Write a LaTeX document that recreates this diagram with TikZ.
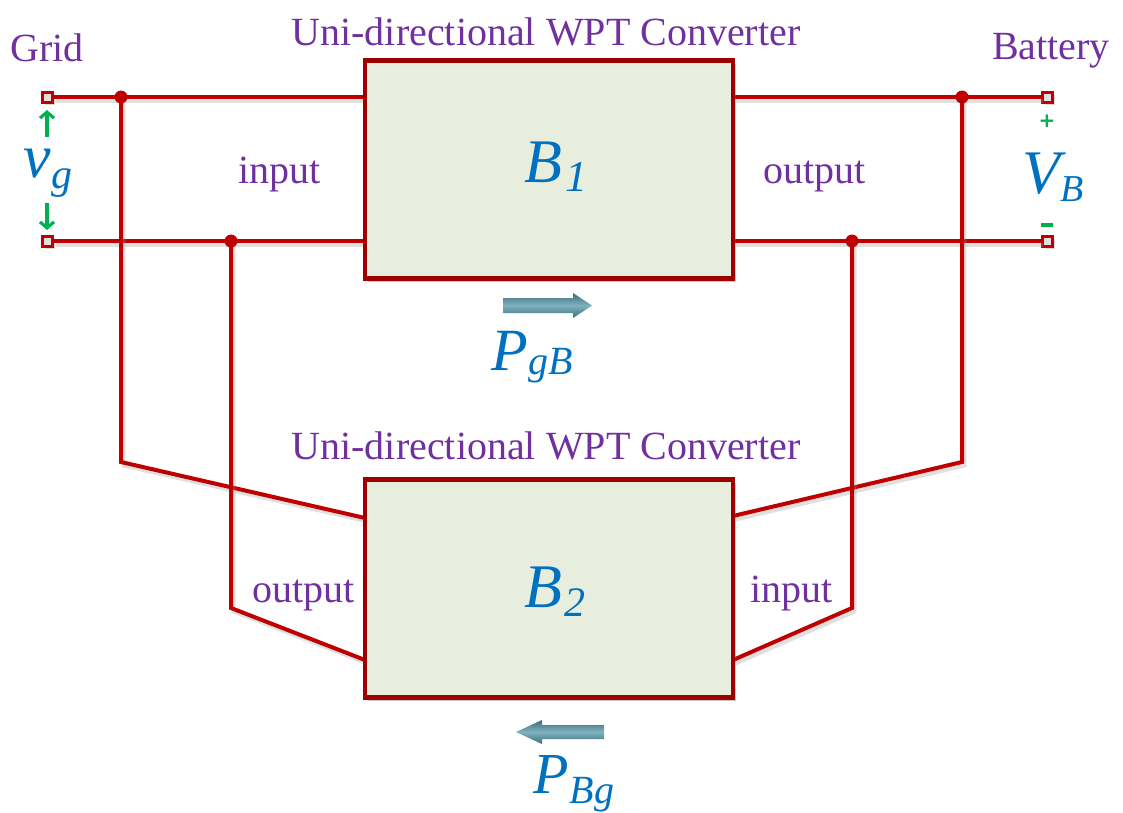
\documentclass[tikz,border=0pt]{standalone}
\usepackage{fontspec}
\setmainfont{Liberation Serif}
\newfontfamily\djv{DejaVu Sans}
\usetikzlibrary{arrows.meta,calc,shadows}
\definecolor{wirered}{HTML}{C00000}
\definecolor{boxred}{HTML}{9E0000}
\definecolor{boxfill}{HTML}{E8EEDE}
\definecolor{lblpurple}{HTML}{7030A0}
\definecolor{lblblue}{HTML}{0070C0}
\definecolor{sgngreen}{HTML}{00B050}
\definecolor{arrdark}{HTML}{3D6C79}
\definecolor{arrmid}{HTML}{7FB2BF}
\newcommand{\fs}[1]{\fontsize{#1}{#1}\selectfont}
\begin{document}
\begin{tikzpicture}[x=1pt,y=-1pt,
  wire/.style={wirered,line width=4pt,line join=miter,
    preaction={draw=black!40,opacity=0.3,line width=4pt,transform canvas={shift={(2.5pt,-3.5pt)}}}},
  conv/.style={draw=boxred,line width=4.5pt,fill=boxfill,minimum width=368pt,
    minimum height=218pt,inner sep=0pt,
    drop shadow={shadow xshift=3pt,shadow yshift=-3pt,opacity=0.35,fill=black!60}},
  term/.style={draw=wirered,line width=3pt,fill=black!12,minimum size=10pt,inner sep=0pt,
    drop shadow={shadow xshift=2.5pt,shadow yshift=-2.5pt,opacity=0.3}},
  jdot/.style={circle,fill=wirered,minimum size=13pt,inner sep=0pt},
  lbl/.style={text=lblpurple,font=\fs{40},inner sep=0pt},
  sym/.style={text=lblblue,font=\itshape,inner sep=0pt,anchor=base west},
  sig/.style={sgngreen,line width=3.2pt,-{Straight Barb[length=6pt,width=14pt,line width=3.2pt]}},
  sgn/.style={text=sgngreen,font=\fs{20}\djv\bfseries,inner sep=0pt},
]
\useasboundingbox (0,0) rectangle (1123,812);

% terminals
\node[term] (g1) at (47,97) {};
\node[term] (g2) at (47,241) {};
\node[term] (t1) at (1047,97) {};
\node[term] (t2) at (1047,241) {};

% junctions and bends
\coordinate (jL1) at (121,97);
\coordinate (jL2) at (231,241);
\coordinate (jR1) at (962,97);
\coordinate (jR2) at (852,241);
\coordinate (bL1) at (121,462);
\coordinate (bL2) at (231,608);
\coordinate (bR1) at (962,462);
\coordinate (bR2) at (852,608);
\coordinate (aL1) at (365,518);
\coordinate (aL2) at (365,660);
\coordinate (aR1) at (733,516);
\coordinate (aR2) at (733,660);

\path (549,169.5) coordinate (c1) (549,588.5) coordinate (c2);

% wires
\draw[wire] (g1.east) -- (jL1) -- (365,97);
\draw[wire] (g2.east) -- (jL2) -- (365,241);
\draw[wire] (733,97) -- (jR1) -- (t1.west);
\draw[wire] (733,241) -- (jR2) -- (t2.west);
\draw[wire] (jL1) -- (bL1) -- (aL1);
\draw[wire] (jL2) -- (bL2) -- (aL2);
\draw[wire] (jR1) -- (bR1) -- (aR1);
\draw[wire] (jR2) -- (bR2) -- (aR2);

\node[jdot] (dL1) at (jL1) {};
\node[jdot] (dL2) at (jL2) {};
\node[jdot] (dR1) at (jR1) {};
\node[jdot] (dR2) at (jR2) {};

% boxes
\node[conv] (B1) at (c1) {};
\node[conv] (B2) at (c2) {};

% titles
\node[lbl,anchor=base] (tt1) at (546,45) {Uni-directional WPT Converter};
\node[lbl,anchor=base] (tt2) at (546,459) {Uni-directional WPT Converter};
\node[lbl,anchor=base west] (grid) at (10,61) {Grid};
\node[lbl,anchor=base west] (batt) at (992,59) {Battery};
\node[lbl,anchor=base west] (in1) at (238,183) {input};
\node[lbl,anchor=base west] (out1) at (763,183) {output};
\node[lbl,anchor=base west] (out2) at (252,602) {output};
\node[lbl,anchor=base west] (in2) at (750,602) {input};

% symbols
\node[sym] (lb1) at (524,182) {\fs{62}B\kern3pt\raisebox{-9pt}{\fs{44}1}};
\node[sym] (lb2) at (524,607) {\fs{62}B\kern2pt\raisebox{-9pt}{\fs{42}2}};
\node[sym] (vg) at (23,177) {\fs{62}v\kern1pt\raisebox{-11pt}{\fs{42}g}};
\node[sym] (vb) at (1022,193) {\fs{62}V\raisebox{-8pt}{\fs{38}B}};
\node[sym] (pgb) at (491,370) {\fs{60}P\kern1pt\raisebox{-4pt}{\fs{40}gB}};
\node[sym] (pbg) at (533,793) {\fs{58}P\kern1pt\raisebox{-10pt}{\fs{40}Bg}};

% voltage signs
\coordinate (ua) at (47,137);
\coordinate (ub) at (47,110);
\coordinate (da) at (47,203);
\coordinate (db) at (47,230);
\draw[sig] (ua) -- (ub);
\draw[sig] (da) -- (db);
\node[sgn] (plus) at (1047,121) {+};
\node[sgn] (minus) at (1047,225) {\rule{12pt}{3.5pt}};

% power-flow arrows
\shade[top color=arrdark,bottom color=arrdark,middle color=arrmid]
  (503,298) -- (573,298) -- (573,293) -- (592,305.5) -- (573,318) -- (573,313) -- (503,313) -- cycle;
\shade[top color=arrdark,bottom color=arrdark,middle color=arrmid]
  (604,725) -- (542,725) -- (542,720) -- (516,732) -- (542,744) -- (542,739) -- (604,739) -- cycle;
\end{tikzpicture}
\end{document}
